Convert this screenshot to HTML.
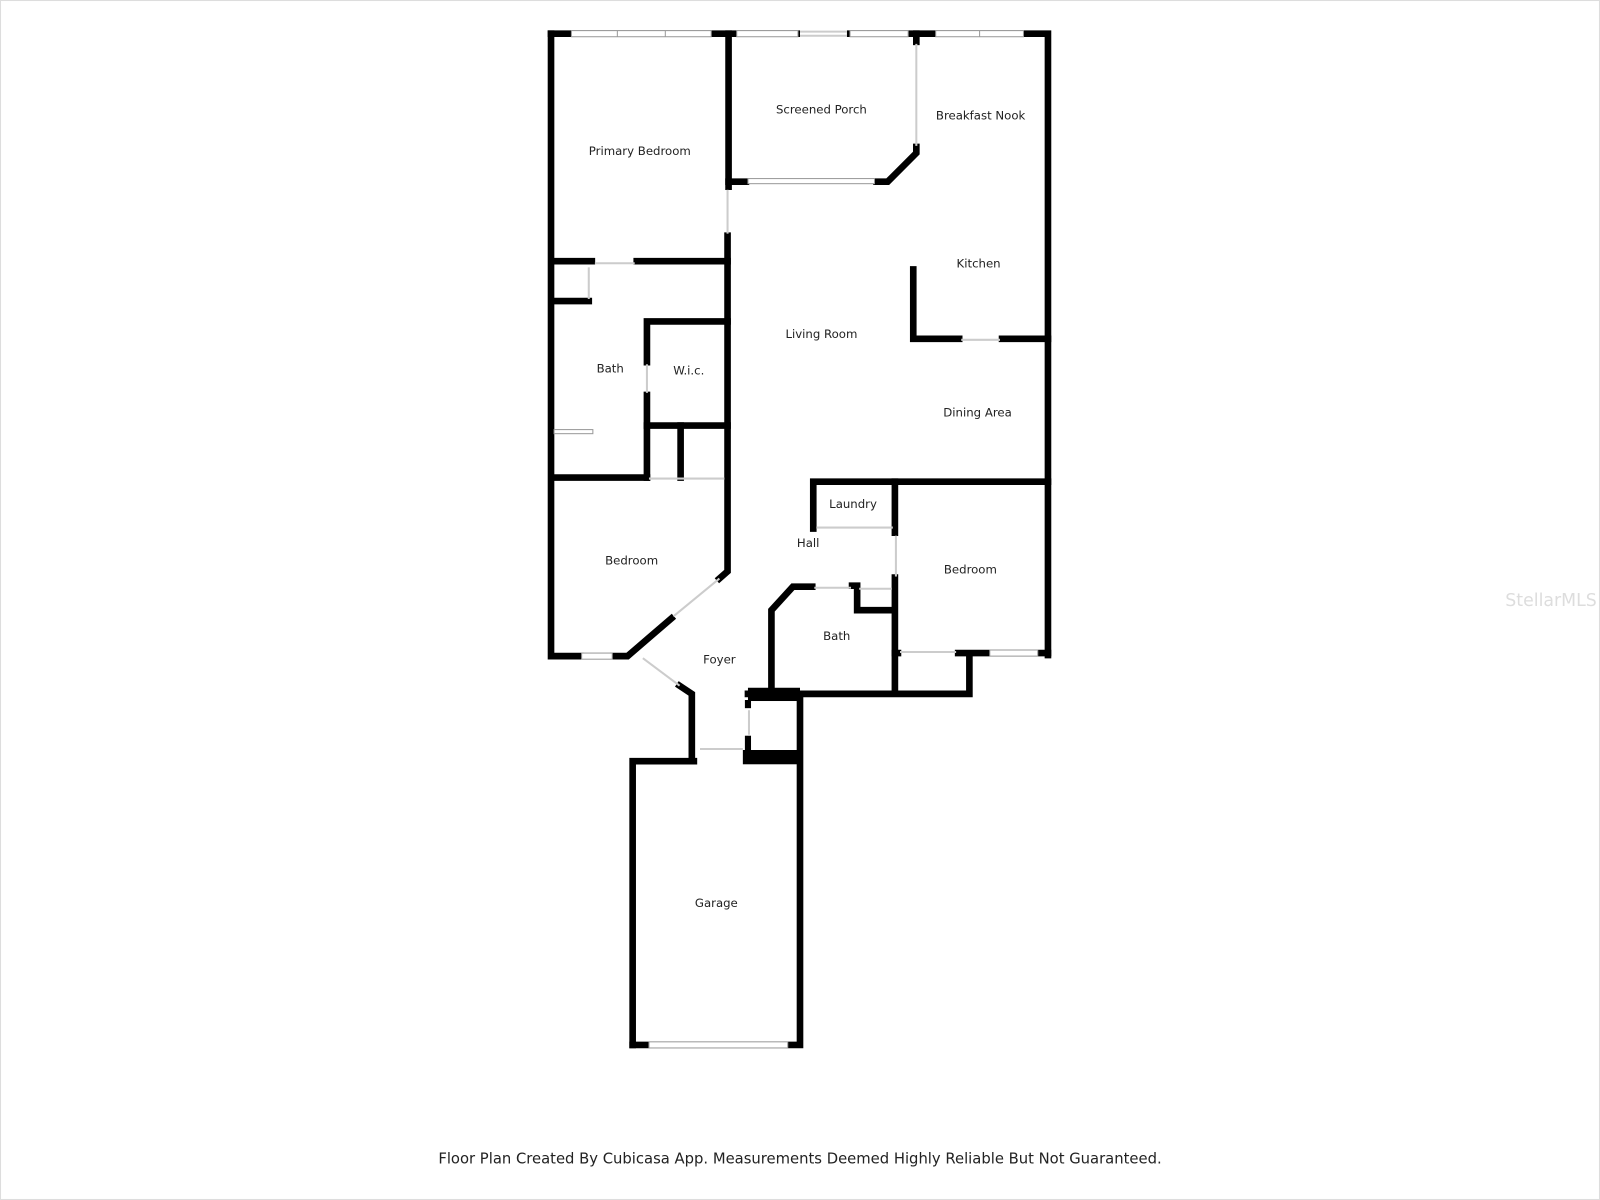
<!DOCTYPE html>
<html><head><meta charset="utf-8"><style>html,body{margin:0;padding:0;background:#fff}svg{display:block}</style></head><body>
<svg width="1600" height="1200" viewBox="0 0 1568 1176" preserveAspectRatio="none" xmlns="http://www.w3.org/2000/svg">
<rect width="1568" height="1176" fill="#fff"/>
<rect x="0.5" y="0.5" width="1567" height="1175" fill="none" stroke="#ddd"/>
<g stroke="#000" stroke-width="6.5" stroke-linecap="square" fill="none">
<path d="M540 33 H1027 V642"/>
<path d="M540 33 V643 H569"/>
<path d="M714 33 V183"/><path d="M713 231 V560 L705 567"/>
<path d="M714 178 H731"/><path d="M859 178 H870 L898 150 V144"/><path d="M898 33 V41"/>
<path d="M542 256 H580"/><path d="M624 256 H713"/>
<path d="M542 295 H577"/>
<path d="M634 355 V315 H713"/><path d="M634 387 V468"/><path d="M634 417 H713"/><path d="M667 417 V468"/>
<path d="M542 468 H634"/>
<path d="M601 643 H615 L658 606"/>
<path d="M666 672 L678 680 V740"/>
<path d="M620 1024 V746 H680"/><path d="M620 1024 H634"/><path d="M774 1024 H784 V682"/>
<path d="M733 680 H950 V642"/>
<path d="M756 677 V598 L777 575 H796"/><path d="M835 574 H840 V598 H876"/><path d="M877 566 V677"/>
<path d="M797 518 V472 H1027"/><path d="M877 472 V522"/>
<path d="M877 640 H880"/><path d="M939 640 H968"/><path d="M1019 640 H1027"/>
<path d="M895 264 V332 H940"/><path d="M982 332 H1027"/>
</g>
<rect x="733" y="674" width="51" height="13" fill="#000"/>
<rect x="728" y="735" width="56" height="14" fill="#000"/>
<rect x="730" y="686" width="6" height="8" fill="#000"/>
<rect x="730" y="721" width="6" height="16" fill="#000"/>
<rect x="784" y="29" width="46" height="8" fill="#fff"/>
<g fill="#fff" stroke="#999" stroke-width="1">
<rect x="560" y="30" width="137" height="6"/><rect x="722" y="30" width="60" height="6"/><rect x="833" y="30" width="57" height="6"/><rect x="917" y="30" width="86" height="6"/>
<rect x="733" y="175" width="124" height="5"/>
<rect x="570" y="640" width="30" height="6"/><rect x="970" y="637" width="47" height="6"/><rect x="636" y="1021" width="136" height="6"/>
<rect x="543" y="421" width="38" height="4"/>
</g>
<g stroke="#999" stroke-width="1">
<path d="M605 30 V36 M652 30 V36 M960 30 V36"/>
</g>
<g stroke="#ccc" stroke-width="2" fill="none">
<path d="M784 31 H830 M784 35 H830"/><path d="M898 43 V143"/><path d="M577 262 V293"/><path d="M583 258 H622"/><path d="M713 186 V229"/>
<path d="M634 357 V385"/><path d="M636 469 H710"/><path d="M660 604 L705 567"/><path d="M630 645 L666 672"/>
<path d="M686 734 H728"/><path d="M734 696 V720"/><path d="M800 517 H875"/><path d="M878 525 V565"/><path d="M798 576 H834"/><path d="M842 577 H874"/>
<path d="M882 639 H937"/><path d="M942 333 H980"/>
</g>
<g font-family="'DejaVu Sans','Liberation Sans',sans-serif" font-size="11.5" fill="#222" text-anchor="middle">
<text x="627" y="152">Primary Bedroom</text>
<text x="805" y="111">Screened Porch</text>
<text x="961" y="117">Breakfast Nook</text>
<text x="959" y="262">Kitchen</text>
<text x="805" y="331">Living Room</text>
<text x="598" y="365">Bath</text>
<text x="675" y="367">W.i.c.</text>
<text x="958" y="408">Dining Area</text>
<text x="836" y="498">Laundry</text>
<text x="792" y="536">Hall</text>
<text x="619" y="553">Bedroom</text>
<text x="951" y="562">Bedroom</text>
<text x="820" y="627">Bath</text>
<text x="705" y="650">Foyer</text>
<text x="702" y="889">Garage</text>
</g>
<text x="1520" y="594" font-family="'DejaVu Sans',sans-serif" font-size="17" fill="#ddd" text-anchor="middle">StellarMLS</text>
<text x="784" y="1140" font-family="'DejaVu Sans','Liberation Sans',sans-serif" font-size="14.5" fill="#222" text-anchor="middle">Floor Plan Created By Cubicasa App. Measurements Deemed Highly Reliable But Not Guaranteed.</text>
</svg>
</body></html>
